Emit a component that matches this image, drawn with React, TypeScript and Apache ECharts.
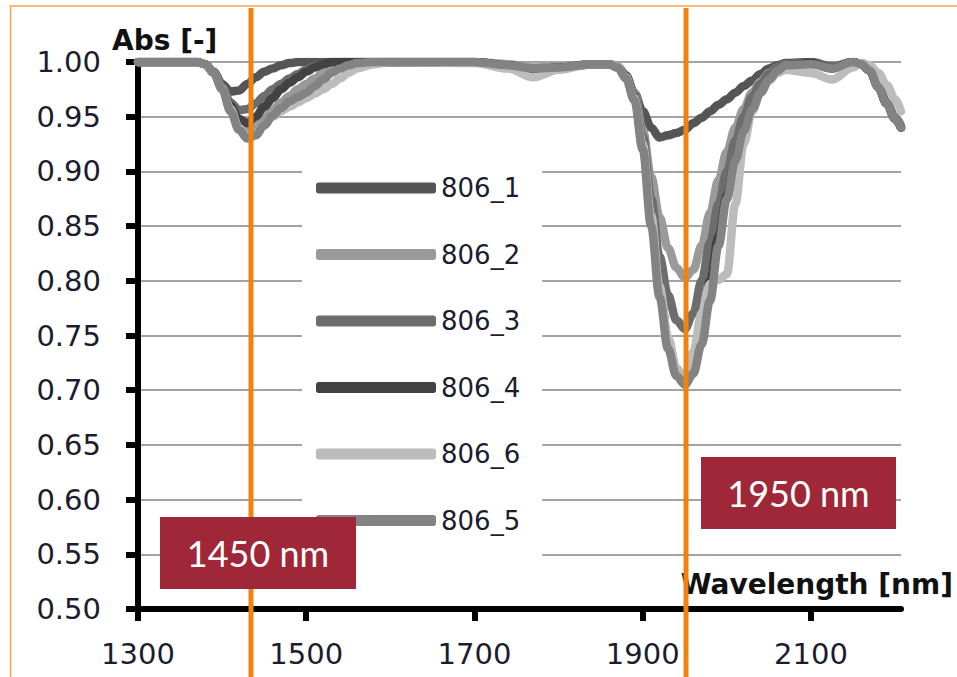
import React, { useEffect, useRef } from "react";
import * as echarts from "echarts";

const wavelengths = [1300, 1370, 1380, 1390, 1400, 1410, 1420, 1430, 1440, 1450, 1460, 1470, 1480, 1490, 1500, 1510, 1520, 1530, 1540, 1550, 1560, 1580, 1600, 1700, 1740, 1770, 1800, 1840, 1860, 1870, 1880, 1890, 1900, 1910, 1920, 1930, 1940, 1950, 1960, 1970, 1980, 1990, 2000, 2010, 2020, 2030, 2040, 2050, 2060, 2070, 2100, 2125, 2150, 2160, 2170, 2180, 2190, 2200, 2207];

const s806_1 = [1, 1, 0.998, 0.991, 0.98, 0.973, 0.974, 0.98, 0.986, 0.991, 0.994, 0.997, 0.999, 1, 1, 1, 1, 1, 1, 1, 1, 1, 1, 1, 0.997, 0.993, 0.995, 0.998, 0.998, 0.995, 0.987, 0.972, 0.955, 0.94, 0.931, 0.933, 0.935, 0.938, 0.944, 0.949, 0.955, 0.961, 0.966, 0.972, 0.978, 0.983, 0.989, 0.994, 0.997, 0.999, 1, 0.996, 1, 0.998, 0.992, 0.977, 0.962, 0.948, 0.94];
const s806_2 = [1, 1, 0.998, 0.99, 0.976, 0.957, 0.942, 0.936, 0.94, 0.948, 0.956, 0.963, 0.969, 0.975, 0.98, 0.985, 0.99, 0.994, 0.997, 0.999, 1, 1, 1, 1, 0.998, 0.995, 0.996, 0.998, 0.998, 0.996, 0.988, 0.972, 0.938, 0.895, 0.858, 0.83, 0.812, 0.803, 0.81, 0.832, 0.862, 0.892, 0.918, 0.94, 0.957, 0.972, 0.982, 0.99, 0.995, 0.998, 0.999, 0.995, 1, 0.998, 0.993, 0.979, 0.964, 0.95, 0.942];
const s806_3 = [1, 1, 0.998, 0.99, 0.977, 0.963, 0.956, 0.957, 0.962, 0.969, 0.975, 0.98, 0.985, 0.989, 0.993, 0.996, 0.998, 1, 1, 1, 1, 1, 1, 1, 0.997, 0.993, 0.995, 0.998, 0.998, 0.996, 0.988, 0.97, 0.932, 0.875, 0.822, 0.787, 0.764, 0.756, 0.77, 0.8, 0.835, 0.87, 0.9, 0.928, 0.95, 0.968, 0.98, 0.989, 0.995, 0.998, 0.999, 0.995, 1, 0.998, 0.992, 0.977, 0.962, 0.948, 0.94];
const s806_4 = [1, 1, 0.998, 0.99, 0.976, 0.96, 0.948, 0.944, 0.95, 0.959, 0.967, 0.975, 0.981, 0.986, 0.991, 0.995, 0.998, 1, 1, 1, 1, 1, 1, 1, 0.997, 0.993, 0.995, 0.998, 0.998, 0.996, 0.987, 0.968, 0.925, 0.86, 0.795, 0.746, 0.719, 0.71, 0.725, 0.76, 0.8, 0.84, 0.878, 0.91, 0.937, 0.957, 0.972, 0.984, 0.992, 0.997, 0.999, 0.994, 1, 0.998, 0.992, 0.977, 0.962, 0.948, 0.94];
const s806_6 = [1, 1, 0.998, 0.99, 0.976, 0.957, 0.94, 0.931, 0.934, 0.942, 0.95, 0.955, 0.959, 0.963, 0.967, 0.971, 0.975, 0.98, 0.985, 0.99, 0.994, 0.998, 1, 0.999, 0.994, 0.986, 0.993, 0.998, 0.998, 0.996, 0.986, 0.967, 0.925, 0.86, 0.795, 0.748, 0.72, 0.71, 0.735, 0.77, 0.797, 0.801, 0.806, 0.87, 0.925, 0.955, 0.972, 0.983, 0.99, 0.993, 0.99, 0.984, 0.995, 0.999, 0.997, 0.99, 0.979, 0.966, 0.955];
const s806_5 = [1, 1, 0.998, 0.99, 0.975, 0.955, 0.938, 0.93, 0.933, 0.942, 0.951, 0.958, 0.964, 0.968, 0.972, 0.978, 0.984, 0.99, 0.994, 0.997, 0.999, 1, 1, 1, 0.997, 0.994, 0.995, 0.998, 0.998, 0.995, 0.985, 0.965, 0.92, 0.85, 0.785, 0.738, 0.713, 0.705, 0.715, 0.742, 0.782, 0.832, 0.875, 0.91, 0.937, 0.957, 0.972, 0.984, 0.992, 0.997, 0.998, 0.994, 1, 0.998, 0.992, 0.977, 0.962, 0.948, 0.94];

const seriesNames = ["806_1", "806_2", "806_3", "806_4", "806_6", "806_5"];
const seriesValues = [s806_1, s806_2, s806_3, s806_4, s806_6, s806_5];
const seriesColors = ["#555555", "#9a9a9a", "#6d6d6d", "#424242", "#bcbcbc", "#838383"];

const xTickValues = [1300, 1500, 1700, 1900, 2100];
const yMin = 0.5;
const yMax = 1.0;
const yStep = 0.05;
const xMin = 1300;
const xMax = 2207;

const yAxisTitle = "Abs [-]";
const xAxisTitle = "Wavelength [nm]";
const markerLabels = ["1450 nm", "1950 nm"];

export default function App() {
  const ref = useRef<HTMLDivElement>(null);
  useEffect(() => {
    if (!ref.current) return;
    const chart = echarts.init(ref.current, null, { renderer: "svg" });
    const labelColor = "#1c1c30";
    const option = {
      animation: false,
      backgroundColor: "#ffffff",
      grid: { left: 138, right: 56, top: 62, bottom: 68, containLabel: false },
      xAxis: {
        type: "value",
        min: xMin,
        max: xMax,
        axisLine: { show: true, onZero: false, lineStyle: { color: "#000", width: 6 } },
        axisTick: { show: true, customValues: xTickValues, length: 12, lineStyle: { color: "#000", width: 6 } },
        axisLabel: {
          customValues: xTickValues,
          margin: 30,
          fontFamily: "DejaVu Sans",
          fontSize: 29,
          color: labelColor,
          formatter: (v: number) => String(v),
        },
        splitLine: { show: false },
      },
      yAxis: {
        type: "value",
        min: yMin,
        max: yMax,
        interval: yStep,
        axisLine: { show: true, lineStyle: { color: "#000", width: 6 } },
        axisTick: { show: true, length: 12, lineStyle: { color: "#000", width: 6 } },
        axisLabel: {
          margin: 37,
          fontFamily: "DejaVu Sans",
          fontSize: 29,
          color: labelColor,
          formatter: (v: number) => v.toFixed(2),
        },
        splitLine: { show: true, lineStyle: { color: "#a3a3a3", width: 2 } },
      },
      legend: {
        orient: "vertical",
        left: 302,
        top: 156,
        padding: [19, 22, 40, 14],
        backgroundColor: "#ffffff",
        itemWidth: 120,
        itemHeight: 11,
        itemGap: 40.5,
        icon: "roundRect",
        data: seriesNames,
        textStyle: {
          fontFamily: "DejaVu Sans",
          fontSize: 26,
          lineHeight: 26,
          height: 26,
          color: labelColor,
        },
      },
      series: seriesNames.map((name, i) => ({
        name,
        type: "line",
        data: wavelengths.map((w, j) => [w, seriesValues[i][j]]),
        smooth: 0.35,
        smoothMonotone: "x",
        showSymbol: false,
        symbol: "none",
        clip: true,
        color: seriesColors[i],
        lineStyle: { color: seriesColors[i], width: 8.5, cap: "round", join: "round" },
      })),
      graphic: [
        { type: "line", z: 90, shape: { x1: 10, y1: 6, x2: 957, y2: 6 }, style: { stroke: "#F5A54C", lineWidth: 1.5 } },
        { type: "line", z: 90, shape: { x1: 10.5, y1: 6, x2: 10.5, y2: 677 }, style: { stroke: "#F5A54C", lineWidth: 1.5 } },
        {
          type: "text",
          z: 80,
          x: 112,
          y: 40,
          style: { text: yAxisTitle, fontFamily: "DejaVu Sans", fontWeight: "bold", fontSize: 28, fill: "#111", verticalAlign: "middle", align: "left" },
        },
        {
          type: "text",
          z: 80,
          x: 953,
          y: 584,
          style: { text: xAxisTitle, fontFamily: "DejaVu Sans", fontWeight: "bold", fontSize: 28, fill: "#111", verticalAlign: "middle", align: "right" },
        },
        { type: "line", z: 95, shape: { x1: 251, y1: 8, x2: 251, y2: 677 }, style: { stroke: "#F0820F", lineWidth: 5 } },
        { type: "line", z: 95, shape: { x1: 686, y1: 8, x2: 686, y2: 677 }, style: { stroke: "#F0820F", lineWidth: 5 } },
        { type: "rect", z: 100, shape: { x: 160, y: 517, width: 196, height: 72 }, style: { fill: "#9F2737" } },
        {
          type: "text",
          z: 101,
          x: 258,
          y: 553,
          style: { text: markerLabels[0], fontFamily: "Lato", fontSize: 36, fill: "#ffffff", align: "center", verticalAlign: "middle" },
        },
        { type: "rect", z: 100, shape: { x: 701, y: 457, width: 195, height: 72 }, style: { fill: "#9F2737" } },
        {
          type: "text",
          z: 101,
          x: 798.5,
          y: 493,
          style: { text: markerLabels[1], fontFamily: "Lato", fontSize: 36, fill: "#ffffff", align: "center", verticalAlign: "middle" },
        },
      ],
    };
    chart.setOption(option as any);
    return () => chart.dispose();
  }, []);
  return (
    <div
      ref={ref}
      style={{ position: "absolute", left: 0, top: 0, width: 957, height: 677, background: "#fff" }}
    />
  );
}
